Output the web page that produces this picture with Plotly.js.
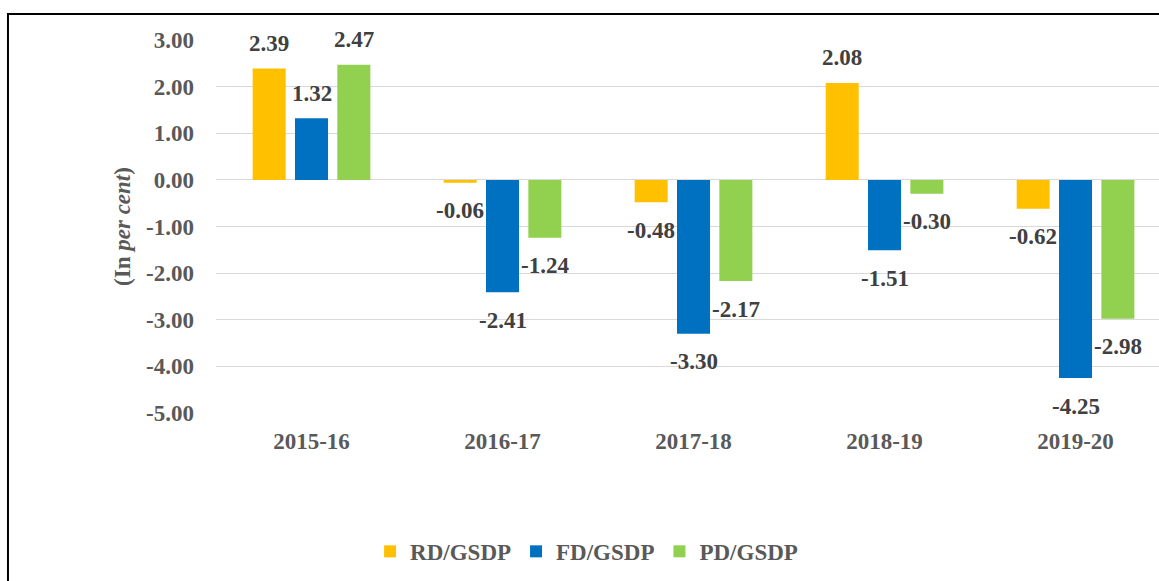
<!DOCTYPE html>
<html><head><meta charset="utf-8">
<script src="https://cdn.plot.ly/plotly-3.0.1.min.js"></script>
<style>html,body{margin:0;padding:0;background:#fff}#chart{width:1159px;height:581px}</style>
</head><body><div id="chart"></div>
<script>
const categories = ['2015-16','2016-17','2017-18','2018-19','2019-20'];
const seriesNames = ['RD/GSDP','FD/GSDP','PD/GSDP'];
const rdGsdp = [2.39, -0.06, -0.48, 2.08, -0.62];
const fdGsdp = [1.32, -2.41, -3.30, -1.51, -4.25];
const pdGsdp = [2.47, -1.24, -2.17, -0.30, -2.98];
const yTickVals = [3, 2, 1, 0, -1, -2, -3, -4, -5];
const yTickText = ['3.00','2.00','1.00','0.00','-1.00','-2.00','-3.00','-4.00','-5.00'];

const colors = ['#FFC000', '#0070C0', '#92D050'];
const fam = '"Liberation Serif", "Times New Roman", serif';
const series = [rdGsdp, fdGsdp, pdGsdp];

const traces = series.map((v, i) => ({
  type: 'bar', name: seriesNames[i], x: categories, y: v,
  marker: {color: colors[i]}, hoverinfo: 'skip'
}));

const slot = 42.3;
const annotations = [];
series.forEach((v, i) => v.forEach((val, j) => annotations.push({
  x: categories[j], y: val, text: val.toFixed(2), showarrow: false,
  xshift: (i - 1) * slot, yshift: val >= 0 ? 25 : -28, yanchor: 'middle',
  font: {family: fam, size: 23, color: '#404040', weight: 'bold'}
})));

const layout = {
  width: 1159, height: 581,
  margin: {l: 216, r: 0, t: 40, b: 168},
  paper_bgcolor: '#fff', plot_bgcolor: '#fff',
  bargap: 0.335, bargroupgap: 0.22,
  showlegend: true,
  legend: {orientation: 'h', x: 0.393, xanchor: 'center', y: -0.371, yanchor: 'middle',
    font: {family: fam, size: 23, color: '#595959', weight: 'bold'}},
  xaxis: {type: 'category', range: [-0.5, 4.437], showgrid: false, zeroline: false,
    showline: false, ticks: '', ticklabelstandoff: 12,
    tickfont: {family: fam, size: 23, color: '#595959', weight: 'bold'}},
  yaxis: {range: [-5, 3], tickvals: yTickVals, ticktext: yTickText,
    showgrid: true, gridcolor: '#d9d9d9', gridwidth: 1,
    zeroline: true, zerolinecolor: '#d9d9d9', zerolinewidth: 1,
    showline: false, ticks: '', ticklabelstandoff: 21,
    tickfont: {family: fam, size: 23, color: '#595959', weight: 'bold'},
    title: {text: '(In <i>per cent</i>)', standoff: 9,
      font: {family: fam, size: 23, color: '#595959', weight: 'bold'}}},
  annotations: annotations,
  shapes: [{type: 'rect', xref: 'paper', yref: 'paper',
    x0: -0.2206, x1: 1.2, y0: -1, y1: 1.0697,
    line: {color: '#000', width: 2}, fillcolor: 'rgba(0,0,0,0)', layer: 'above'}]
};

Plotly.newPlot('chart', traces, layout, {displayModeBar: false, staticPlot: true});
</script>
</body></html>
